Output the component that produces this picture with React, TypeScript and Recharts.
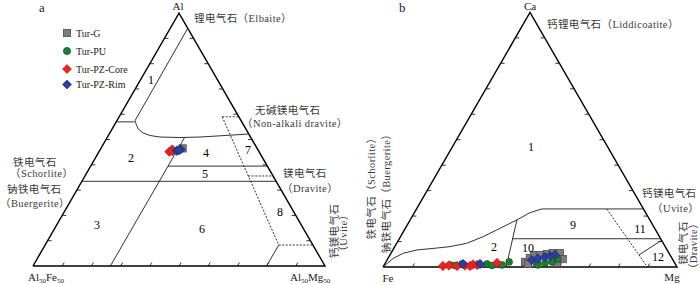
import { Scatter, ScatterChart, XAxis, YAxis } from 'recharts'

const SIN60 = Math.sqrt(3) / 2
const SERIF = "'Liberation Serif', 'Noto Sans CJK SC', serif"
const INK = '#1a1a1a'
const TXT = '#3a3a3a'

// tick marks every 10% along each edge
const EDGE_TICKS = [10, 20, 30, 40, 50, 60, 70, 80, 90]

// points are [top, right] in percent (left corner takes the rest)
const FRAME = [[0, 0], [0, 100], [100, 0], [0, 0]]

// diagram a: Al (top) – Al50Fe50 (left) – Al50Mg50 (right), stored as [Al, Mg]
const A_FIELD1 = [[94, 6], [57.5, 6.2], [56.2, 7.2], [54.2, 8.9], [52.6, 11.4], [51.6, 14.3], [51, 18], [50.8, 24.9], [51, 31.7], [51.6, 40], [52.2, 47.8]]
const A_AL57 = [[57, 0], [57, 6.2]]
const A_MG26 = [[50.8, 26.5], [0, 26.5]]
const A_AL39 = [[39.5, 26.5], [39.5, 60.5]]
const A_AL33 = [[33.5, 0], [33.5, 66.5]]
const A_MG80 = [[8.3, 80], [0, 80]]
const A_DOT_TOP = [[59, 35.3], [59, 41]]
const A_DOT_DIAG = [[59, 35.3], [8.3, 80]]
const A_DOT_MID = [[35.6, 55.9], [35.6, 64.4]]
const A_DOT_LOW = [[8.3, 80], [8.3, 91.7]]

const A_TUR_G = [[46.5, 28.0]]
const A_TUR_PU: number[][] = []
const A_TUR_CORE = [[45.2, 24.1], [46.1, 24.6], [45.4, 25.0]]
const A_TUR_RIM = [[45.6, 26.4], [46.1, 27.5], [45.8, 27.0]]

// diagram b: Ca (top) – Fe (left) – Mg (right), stored as [Ca, Mg]
const B_CURVE = [[0, 0], [3.4, 1.8], [5.4, 4.2], [6.7, 8.2], [7.3, 13.4], [8.0, 18.8], [9.3, 23.8], [11.9, 28.1], [15.2, 32.2], [18.5, 36.3], [21.3, 39.3], [22.8, 42.6], [22.8, 77.2]]
const B_SPLIT = [[18.5, 36.3], [0, 41.9]]
const B_CA11 = [[11.1, 38.5], [11.1, 88.9]]
const B_SHORT = [[4.7, 84.7], [10.5, 89.5]]
const B_DASH = [[22.8, 64.7], [0, 89.9]]

const B_TUR_G = [[2.0, 47.3], [3.5, 48.2], [4.7, 49.0], [4.7, 51.0], [5.1, 53.2], [5.5, 55.0], [5.5, 57.4], [3.1, 59.6], [1.6, 58.4], [1.6, 51.6], [1.2, 48.7]]
const B_TUR_PU = [[0.8, 22.4], [0.6, 24.2], [1.2, 26.3], [1.2, 34.8], [0.6, 36.8], [0.8, 40.1], [2.0, 41.9], [0.8, 52.3], [1.6, 54.3], [2.0, 56.5], [3.1, 57.9]]
const B_TUR_CORE = [[0.4, 20.2], [0.6, 22.1], [0.4, 25.0], [0.6, 27.6], [0.4, 29.4], [1.0, 30.1], [0.8, 31.6], [1.6, 38.0]]
const B_TUR_RIM = [[1.2, 26.6], [1.2, 32.4], [2.7, 49.3], [3.3, 51.0], [3.9, 53.1], [4.3, 54.6], [4.7, 56.1]]

const tern = (pts: number[][]) => pts.map(([top, right]) => ({ x: right + top / 2, y: top * SIN60 }))

const Nothing = () => <g />

const tickShape = (dx: number, dy: number) => (p: any) => (
  <line x1={p.cx} y1={p.cy} x2={p.cx + dx} y2={p.cy + dy} stroke={INK} strokeWidth={0.9} />
)

const squareShape = (p: any) => (
  <rect x={p.cx - 3.6} y={p.cy - 3.6} width={7.2} height={7.2} fill="#7d7d7d" stroke="#4d4d4d" strokeWidth={0.8} />
)
const circleShape = (p: any) => <circle cx={p.cx} cy={p.cy} r={3.4} fill="#1d7f31" stroke="#134d1e" strokeWidth={0.7} />
const diamondShape = (fill: string, stroke: string) => (p: any) => (
  <polygon
    points={`${p.cx},${p.cy - 4.7} ${p.cx + 4.7},${p.cy} ${p.cx},${p.cy + 4.7} ${p.cx - 4.7},${p.cy}`}
    fill={fill}
    stroke={stroke}
    strokeWidth={0.6}
  />
)
const redDiamond = diamondShape('#e8241e', '#b51a15')
const blueDiamond = diamondShape('#2e3e9c', '#1a235e')

type Props = {
  left: number
  x0: number
  baseY: number
  scale: number
  solid: number[][][]
  dotted: number[][][]
  tg: number[][]
  pu: number[][]
  core: number[][]
  rim: number[][]
}

function Ternary({ left, x0, baseY, scale, solid, dotted, tg, pu, core, rim }: Props) {
  const W = 350
  const H = 285
  const line = (pts: number[][], key: string, dash?: string) => (
    <Scatter
      key={key}
      data={tern(pts)}
      line={{ stroke: INK, strokeWidth: 0.9, strokeDasharray: dash }}
      shape={Nothing}
      isAnimationActive={false}
    />
  )
  return (
    <div style={{ position: 'absolute', left, top: 0 }}>
      <ScatterChart width={W} height={H} margin={{ top: 0, right: 0, bottom: 0, left: 0 }}>
        <XAxis type="number" dataKey="x" hide allowDataOverflow domain={[-x0 / scale, (W - x0) / scale]} />
        <YAxis type="number" dataKey="y" hide allowDataOverflow domain={[(baseY - H) / scale, baseY / scale]} />
        <Scatter data={tern(FRAME)} line={{ stroke: '#000', strokeWidth: 1.4 }} shape={Nothing} isAnimationActive={false} />
        {solid.map((pts, i) => line(pts, `s${i}`))}
        {dotted.map((pts, i) => line(pts, `d${i}`, '2 1.5'))}
        <Scatter data={tern(EDGE_TICKS.map((k) => [k, 0]))} shape={tickShape(4, 0)} isAnimationActive={false} />
        <Scatter data={tern(EDGE_TICKS.map((k) => [k, 100 - k]))} shape={tickShape(-4, 0)} isAnimationActive={false} />
        <Scatter data={tern(EDGE_TICKS.map((k) => [0, k]))} shape={tickShape(2, -3.5)} isAnimationActive={false} />
        <Scatter data={tern(tg)} shape={squareShape} isAnimationActive={false} />
        <Scatter data={tern(pu)} shape={circleShape} isAnimationActive={false} />
        <Scatter data={tern(core)} shape={redDiamond} isAnimationActive={false} />
        <Scatter data={tern(rim)} shape={blueDiamond} isAnimationActive={false} />
      </ScatterChart>
    </div>
  )
}

const T = (p: { x: number; y: number; s?: number; a?: 'start' | 'middle' | 'end'; c?: string; ls?: number; children: any }) => (
  <text
    x={p.x}
    y={p.y}
    fontSize={p.s ?? 10.5}
    textAnchor={p.a ?? 'start'}
    fill={p.c ?? TXT}
    style={{ fill: p.c ?? TXT, letterSpacing: p.ls ?? 0.4 }}
    fontFamily={SERIF}
  >
    {p.children}
  </text>
)
const V = (p: { x: number; y: number; s?: number; children: any }) => (
  <text
    transform={`translate(${p.x},${p.y}) rotate(-90)`}
    fontSize={p.s ?? 10.5}
    textAnchor="middle"
    fill={TXT}
    style={{ fill: TXT, letterSpacing: 0.4 }}
    fontFamily={SERIF}
  >
    {p.children}
  </text>
)
const N = (p: { x: number; y: number; children: any }) => (
  <T x={p.x} y={p.y} s={12} a="middle" c="#000" ls={0}>
    {p.children}
  </T>
)

export default function App() {
  return (
    <div style={{ position: 'absolute', left: 0, top: 0, width: 700, height: 285, background: '#fff', overflow: 'hidden' }}>
      <Ternary
        left={0}
        x0={33}
        baseY={266}
        scale={2.92}
        solid={[A_FIELD1, A_AL57, A_MG26, A_AL39, A_AL33, A_MG80]}
        dotted={[A_DOT_TOP, A_DOT_DIAG, A_DOT_MID, A_DOT_LOW]}
        tg={A_TUR_G}
        pu={A_TUR_PU}
        core={A_TUR_CORE}
        rim={A_TUR_RIM}
      />
      <Ternary
        left={350}
        x0={33}
        baseY={267}
        scale={2.94}
        solid={[B_CURVE, B_SPLIT, B_CA11, B_SHORT]}
        dotted={[B_DASH]}
        tg={B_TUR_G}
        pu={B_TUR_PU}
        core={B_TUR_CORE}
        rim={B_TUR_RIM}
      />
      <svg width={700} height={285} style={{ position: 'absolute', left: 0, top: 0, pointerEvents: 'none' }}>
        {/* diagram a */}
        <T x={39} y={12} s={13} c={INK} ls={0}>a</T>
        <T x={178} y={10} s={11} a="middle" c={INK} ls={0}>Al</T>
        <T x={194} y={22}>锂电气石（Elbaite）</T>
        <rect x={63.4} y={29.4} width={7.2} height={7.2} fill="#7d7d7d" stroke="#4d4d4d" strokeWidth={0.8} />
        <circle cx={67} cy={51} r={3.6} fill="#1d7f31" stroke="#134d1e" strokeWidth={0.7} />
        <polygon points="67,64.5 71.5,69 67,73.5 62.5,69" fill="#e8241e" stroke="#b51a15" strokeWidth={0.6} />
        <polygon points="67,80 71.5,84.5 67,89 62.5,84.5" fill="#2e3e9c" stroke="#1a235e" strokeWidth={0.6} />
        <T x={76} y={37} s={10} c={INK} ls={0}>Tur-G</T>
        <T x={76} y={55} s={10} c={INK} ls={0}>Tur-PU</T>
        <T x={76} y={73} s={10} c={INK} ls={0}>Tur-PZ-Core</T>
        <T x={76} y={88} s={10} c={INK} ls={0}>Tur-PZ-Rim</T>
        <N x={151} y={84}>1</N>
        <N x={131} y={162}>2</N>
        <N x={206} y={157}>4</N>
        <N x={248} y={154}>7</N>
        <N x={205} y={178}>5</N>
        <N x={97} y={229}>3</N>
        <N x={202} y={233}>6</N>
        <N x={280} y={216}>8</N>
        <T x={255} y={114}>无碱镁电气石</T>
        <T x={242} y={127}>（Non-alkali dravite）</T>
        <T x={13} y={166}>铁电气石</T>
        <T x={10} y={177}>（Schorlite）</T>
        <T x={7} y={193}>钠铁电气石</T>
        <T x={0} y={207}>（Buergerite）</T>
        <T x={283} y={177}>镁电气石</T>
        <T x={282} y={192}>（Dravite）</T>
        <V x={338} y={231}>钙镁电气石</V>
        <V x={347} y={233}>（Uvite）</V>
        <text x={28} y={281} fontSize={11} fill={INK} fontFamily={SERIF}>
          Al<tspan fontSize={7} dy={2}>50</tspan>
          <tspan dy={-2}>Fe</tspan>
          <tspan fontSize={7} dy={2}>50</tspan>
        </text>
        <text x={290} y={281} fontSize={11} fill={INK} fontFamily={SERIF}>
          Al<tspan fontSize={7} dy={2}>50</tspan>
          <tspan dy={-2}>Mg</tspan>
          <tspan fontSize={7} dy={2}>50</tspan>
        </text>
        {/* diagram b */}
        <T x={399} y={12} s={13} c={INK} ls={0}>b</T>
        <T x={530} y={10} s={11} a="middle" c={INK} ls={0}>Ca</T>
        <T x={547} y={28}>钙锂电气石（Liddicoatite）</T>
        <N x={531} y={151}>1</N>
        <N x={573} y={229}>9</N>
        <N x={640} y={233}>11</N>
        <N x={494} y={251}>2</N>
        <N x={528} y={252}>10</N>
        <N x={658} y={261}>12</N>
        <T x={642} y={197}>钙镁电气石</T>
        <T x={652} y={212}>（Uvite）</T>
        <V x={375} y={186}>铁电气石（Schorlite）</V>
        <V x={390} y={191}>钠铁电气石（Buergerite）</V>
        <V x={687} y={243}>镁电气石</V>
        <V x={697} y={246}>（Dravite）</V>
        <T x={388} y={282} s={11} a="middle" c={INK} ls={0}>Fe</T>
        <T x={672} y={281} s={11} a="middle" c={INK} ls={0}>Mg</T>
      </svg>
    </div>
  )
}
